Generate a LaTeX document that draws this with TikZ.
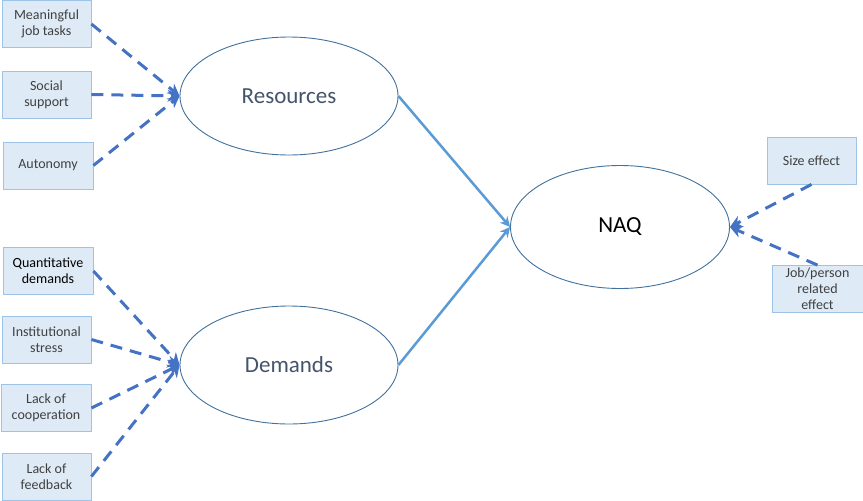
\documentclass[tikz,border=0pt]{standalone}
\usepackage{fontspec}
\setmainfont{Carlito}
\usetikzlibrary{arrows.meta,shapes.geometric}
\definecolor{boxfill}{HTML}{DEEBF7}
\definecolor{boxline}{HTML}{9DC3E6}
\definecolor{ellline}{HTML}{41719C}
\definecolor{dasharrow}{HTML}{4472C4}
\definecolor{solidarrow}{HTML}{5B9BD5}
\definecolor{boxtext}{HTML}{404040}
\definecolor{elltext}{HTML}{44546A}
\tikzset{
  factor/.style={draw=boxline, line width=0.8pt, fill=boxfill, minimum width=89pt, minimum height=47pt,
    inner sep=1pt, align=center, font=\fontsize{14}{16}\selectfont, text=boxtext},
  latent/.style={ellipse, draw=ellline, line width=0.9pt, minimum width=218pt, minimum height=118pt,
    font=\fontsize{23}{26}\selectfont, text=elltext},
  dasharr/.style={draw=dasharrow, line width=3pt, dash pattern=on 12pt off 8pt, -{Stealth[length=12pt,width=12pt]}},
  solidarr/.style={draw=solidarrow, line width=2.5pt, -{Stealth[length=10pt,width=10pt]}}
}
\begin{document}
\begin{tikzpicture}[x=1pt,y=-1pt]
\useasboundingbox (0,0) rectangle (863,501);
% ellipses
\node[latent] (res) at (289,96) {Resources};
\node[latent] (dem) at (289,365) {Demands};
\node[latent, minimum width=219pt, minimum height=123pt, text=black] (naq) at (620,227) {NAQ};
% boxes
\node[factor] (m1) at (46.5,24) {Meaningful\\job tasks};
\node[factor] (m2) at (46.5,94.5) {Social\\support};
\node[factor, minimum width=90pt] (m3) at (48,165.5) {Autonomy};
\node[factor, minimum width=90pt, text=black] (d1) at (48,271) {Quantitative\\demands};
\node[factor] (d2) at (46.5,339.5) {Institutional\\stress};
\node[factor, minimum width=90pt] (d3) at (46,408) {Lack of\\cooperation};
\node[factor] (d4) at (46.5,476.5) {Lack of\\feedback};
\node[factor] (s1) at (811.5,160.5) {Size effect};
\node[factor, minimum width=91pt] (s2) at (817.5,289) {Job/person\\related\\effect};
% connectors
\coordinate (resL) at (res.west);
\coordinate (demL) at (dem.west);
\draw[dasharr] (m1.east) -- (resL);
\draw[dasharr] (m2.east) -- (resL);
\draw[dasharr] (m3.east) -- (resL);
\draw[dasharr] (d1.east) -- (demL);
\draw[dasharr] (d2.east) -- (demL);
\draw[dasharr] (d3.east) -- (demL);
\draw[dasharr] (d4.east) -- (demL);
\draw[solidarr] (res.east) -- (naq.west);
\draw[solidarr] (dem.east) -- (naq.west);
\draw[dasharr] (s1.south) -- (naq.east);
\draw[dasharr] (s2.north) -- (naq.east);
\end{tikzpicture}
\end{document}
